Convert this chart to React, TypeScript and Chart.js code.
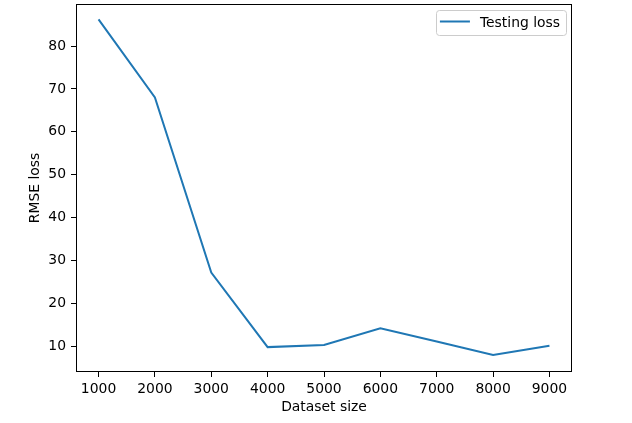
import React, { useEffect, useRef } from 'react';
import { Chart, registerables } from 'chart.js';

Chart.register(...registerables);

const datasetSizes = [1000, 2000, 3000, 4000, 5000, 6000, 7000, 8000, 9000];
const testingLoss = [86.2, 68.0, 27.2, 9.8, 10.3, 14.2, 11.1, 7.97, 10.1];
const xTickValues = [1000, 2000, 3000, 4000, 5000, 6000, 7000, 8000, 9000];
const yTickValues = [10, 20, 30, 40, 50, 60, 70, 80];
const seriesLabel = 'Testing loss';
const xTitle = 'Dataset size';
const yTitle = 'RMSE loss';

const FONT_FAMILY = "'DejaVu Sans', sans-serif";
const FONT_SIZE = 13.9;
const LINE_COLOR = '#1f77b4';

const framePlugin = {
  id: 'mplFrame',
  afterDraw(chart: any) {
    const { ctx, chartArea: a } = chart;
    ctx.save();
    ctx.strokeStyle = '#000';
    ctx.lineWidth = 1;
    const l = Math.round(a.left) + 0.5;
    const t = Math.round(a.top) + 0.5;
    const r = Math.round(a.right) - 0.5;
    const b = Math.round(a.bottom) - 0.5;
    ctx.strokeRect(l, t, r - l, b - t);
    ctx.restore();
  },
};

const legendPlugin = {
  id: 'mplLegend',
  afterDraw(chart: any) {
    const { ctx, chartArea: a } = chart;
    const ds = chart.data.datasets[0];
    ctx.save();
    ctx.font = `${FONT_SIZE}px ${FONT_FAMILY}`;
    const textW = ctx.measureText(ds.label).width;
    const boxRight = a.right - 6;
    const boxTop = a.top + 6;
    const boxH = 25;
    const boxW = 44 + textW + 6;
    const boxLeft = boxRight - boxW;
    ctx.beginPath();
    (ctx as any).roundRect(Math.round(boxLeft) + 0.5, boxTop + 0.5, Math.round(boxW), boxH, 3);
    ctx.fillStyle = 'rgba(255,255,255,0.8)';
    ctx.fill();
    ctx.strokeStyle = '#cccccc';
    ctx.lineWidth = 1;
    ctx.stroke();
    const cy = boxTop + boxH / 2;
    ctx.beginPath();
    ctx.moveTo(boxLeft + 4, cy - 1);
    ctx.lineTo(boxLeft + 34, cy - 1);
    ctx.strokeStyle = ds.borderColor;
    ctx.lineWidth = 2;
    ctx.stroke();
    ctx.fillStyle = '#000';
    ctx.textBaseline = 'middle';
    ctx.textAlign = 'left';
    ctx.fillText(ds.label, boxLeft + 44, cy + 0.5);
    ctx.restore();
  },
};

export default function App() {
  const ref = useRef<HTMLCanvasElement>(null);
  useEffect(() => {
    const font = { family: FONT_FAMILY, size: FONT_SIZE };
    const chart = new Chart(ref.current as HTMLCanvasElement, {
      type: 'line',
      data: {
        datasets: [
          {
            label: seriesLabel,
            data: datasetSizes.map((x, i) => ({ x, y: testingLoss[i] })),
            borderColor: LINE_COLOR,
            backgroundColor: LINE_COLOR,
            borderWidth: 2,
            pointRadius: 0,
            tension: 0,
            fill: false,
          },
        ],
      },
      options: {
        responsive: false,
        animation: false,
        devicePixelRatio: 1,
        layout: { padding: { left: 0, top: 4, right: 60, bottom: 0 } },
        plugins: { legend: { display: false }, tooltip: { enabled: false } },
        scales: {
          x: {
            type: 'linear',
            min: 600,
            max: 9400,
            bounds: 'data',
            afterBuildTicks: (s: any) => {
              s.ticks = xTickValues.map((v) => ({ value: v }));
            },
            afterFit: (s: any) => {
              s.height = 51;
              s.paddingLeft = 0;
              s.paddingRight = 0;
            },
            ticks: {
              color: '#000',
              font,
              padding: 4,
              maxRotation: 0,
              autoSkip: false,
              callback: (v: any) => String(v),
            },
            grid: {
              drawOnChartArea: false,
              drawTicks: true,
              tickLength: 5,
              tickColor: '#000',
            },
            border: { display: false },
            title: {
              display: true,
              text: xTitle,
              color: '#000',
              font,
              padding: { top: 0, bottom: 7.2 },
            },
          },
          y: {
            type: 'linear',
            min: 4.0,
            max: 89.8,
            bounds: 'data',
            afterBuildTicks: (s: any) => {
              s.ticks = yTickValues.map((v) => ({ value: v }));
            },
            afterFit: (s: any) => {
              s.width = 76;
              s.paddingTop = 0;
              s.paddingBottom = 0;
            },
            ticks: {
              color: '#000',
              font,
              padding: 5,
              autoSkip: false,
              callback: (v: any) => String(v),
            },
            grid: {
              drawOnChartArea: false,
              drawTicks: true,
              tickLength: 5,
              tickColor: '#000',
            },
            border: { display: false },
            title: {
              display: true,
              text: yTitle,
              color: '#000',
              font,
              padding: { top: 26.7, bottom: 0 },
            },
          },
        },
      } as any,
      plugins: [framePlugin, legendPlugin],
    });
    return () => chart.destroy();
  }, []);
  return (
    <div style={{ position: 'fixed', left: 0, top: 0, width: 632, height: 423, background: '#fff' }}>
      <canvas ref={ref} width={632} height={423} style={{ display: 'block' }} />
    </div>
  );
}
